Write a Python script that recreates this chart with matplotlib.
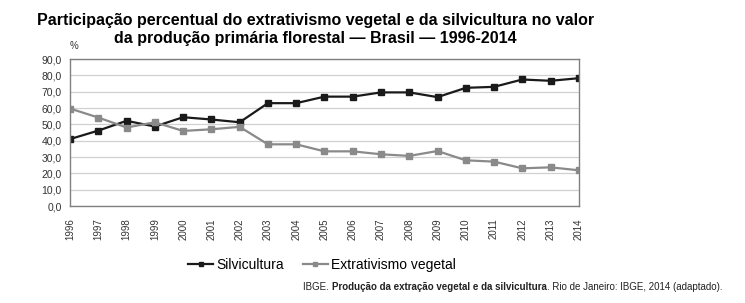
import matplotlib

matplotlib.use("Agg")
import matplotlib.pyplot as plt
from matplotlib.ticker import FuncFormatter

plt.rcParams["font.family"] = ["Liberation Sans", "DejaVu Sans"]

years = list(range(1996, 2015))
silvicultura = [41.0, 46.2, 52.2, 48.7, 54.4, 53.0, 51.3, 63.0, 63.0, 67.0, 67.0,
                69.6, 69.6, 66.7, 72.4, 73.0, 77.5, 76.7, 78.3]
extrativismo = [59.7, 54.2, 48.1, 51.3, 46.0, 47.0, 48.5, 37.8, 37.8, 33.5, 33.5,
                31.7, 30.7, 33.7, 28.0, 27.2, 23.1, 23.7, 21.9]
y_ticks = [0, 10, 20, 30, 40, 50, 60, 70, 80, 90]

fig = plt.figure(figsize=(7.45, 3.03), dpi=100)
ax = fig.add_axes([0.094, 0.32, 0.683, 0.485])

ax.plot(years, silvicultura, color="#1a1a1a", lw=1.6, marker="s", ms=4.5,
        label="Silvicultura")
ax.plot(years, extrativismo, color="#8a8a8a", lw=1.6, marker="s", ms=4.5,
        label="Extrativismo vegetal")

ax.set_xlim(1996, 2014)
ax.set_ylim(0, 90)
ax.set_yticks(y_ticks)
ax.yaxis.set_major_formatter(FuncFormatter(lambda v, _: f"{v:.1f}".replace(".", ",")))
ax.set_xticks(years)
ax.set_xticklabels([str(y) for y in years], rotation=90)
ax.tick_params(axis="y", labelsize=7.5, colors="#333333", length=0, pad=6)
ax.tick_params(axis="x", labelsize=7, colors="#333333", length=0, pad=9)
ax.grid(axis="y", color="#d0d0d0", lw=0.9)
ax.set_axisbelow(True)
for s in ax.spines.values():
    s.set_color("#808080")
    s.set_linewidth(1.0)

fig.text(0.094, 0.838, "%", fontsize=7, color="#333333")
# two title lines as separate texts so the "%" sits clear of them
fig.text(0.423, 0.917, "Participação percentual do extrativismo vegetal e da silvicultura no valor",
         ha="center", va="baseline", fontsize=11.5, fontweight="bold")
fig.text(0.423, 0.857, "da produção primária florestal — Brasil — 1996-2014",
         ha="center", va="baseline", fontsize=11.5, fontweight="bold")

fig.legend(loc="center", bbox_to_anchor=(0.432, 0.125), ncol=2, frameon=False,
           fontsize=10, handlelength=1.8, handletextpad=0.2, columnspacing=1.4,
           markerscale=0.6)

y_src = 0.042
src = fig.text(0.407, y_src, "IBGE. ", fontsize=7, color="#222222")
fig.canvas.draw()
r = fig.canvas.get_renderer()
x = src.get_window_extent(r).x1 / fig.bbox.width
src2 = fig.text(x, y_src, "Produção da extração vegetal e da silvicultura", fontsize=7,
                fontweight="bold", color="#222222")
x = src2.get_window_extent(r).x1 / fig.bbox.width
fig.text(x, y_src, ". Rio de Janeiro: IBGE, 2014 (adaptado).", fontsize=7, color="#222222")

fig.savefig("out.png", dpi=100)
